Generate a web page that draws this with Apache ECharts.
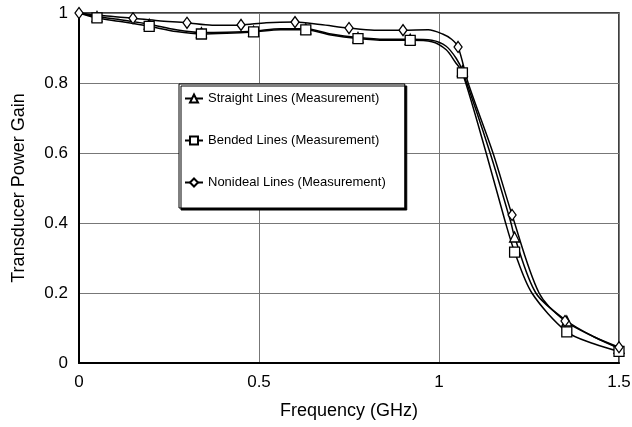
<!DOCTYPE html>
<html>
<head>
<meta charset="utf-8">
<script src="https://cdn.jsdelivr.net/npm/echarts@6/dist/echarts.min.js"></script>
<style>
  html, body { margin: 0; padding: 0; background: #fff; }
  #chart { width: 632px; height: 427px; }
</style>
</head>
<body>
<div id="chart"></div>
<script>
// 读图得到的数据：频率 (GHz) 与增益
var straightF = [0, 0.05, 0.12, 0.195, 0.27, 0.34, 0.41, 0.485, 0.56, 0.63, 0.7, 0.775, 0.85, 0.92, 0.98, 1.02, 1.048, 1.065, 1.142, 1.2, 1.21, 1.269, 1.355, 1.43, 1.5];
var straightG = [1.0, 0.99, 0.98, 0.968, 0.952, 0.944, 0.945, 0.948, 0.955, 0.955, 0.94, 0.93, 0.925, 0.925, 0.922, 0.905, 0.87, 0.835, 0.6, 0.4, 0.36, 0.2, 0.12, 0.075, 0.042];
var straightMarks = [0.05, 0.195, 0.34, 0.485, 0.63, 0.775, 0.92, 1.065, 1.21, 1.355, 1.5];

var bendedF = [0, 0.05, 0.12, 0.195, 0.27, 0.34, 0.41, 0.485, 0.56, 0.63, 0.7, 0.775, 0.85, 0.92, 0.98, 1.02, 1.045, 1.065, 1.131, 1.185, 1.21, 1.258, 1.355, 1.43, 1.5];
var bendedG = [1.0, 0.986, 0.975, 0.962, 0.947, 0.94, 0.942, 0.946, 0.952, 0.952, 0.937, 0.927, 0.922, 0.922, 0.918, 0.895, 0.86, 0.829, 0.6, 0.4, 0.317, 0.2, 0.089, 0.055, 0.033];
var bendedMarks = [0.05, 0.195, 0.34, 0.485, 0.63, 0.775, 0.92, 1.065, 1.21, 1.355, 1.5];

var nonidealF = [0, 0.07, 0.15, 0.22, 0.3, 0.37, 0.45, 0.52, 0.6, 0.67, 0.75, 0.82, 0.9, 0.97, 1.01, 1.035, 1.053, 1.081, 1.15, 1.203, 1.278, 1.35, 1.43, 1.5];
var nonidealG = [1.0, 0.992, 0.985, 0.978, 0.972, 0.965, 0.966, 0.972, 0.974, 0.967, 0.957, 0.951, 0.951, 0.952, 0.94, 0.925, 0.903, 0.8, 0.6, 0.423, 0.2, 0.12, 0.075, 0.045];
var nonidealMarks = [0, 0.15, 0.3, 0.45, 0.6, 0.75, 0.9, 1.053, 1.203, 1.35, 1.5];

var xTicks = [0, 0.5, 1, 1.5];
var yTicks = [0, 0.2, 0.4, 0.6, 0.8, 1];

// 把曲线点和测量点合在一起，只有测量点显示符号
function buildData(fs, gs, marks) {
    return fs.map(function (f, i) {
        var item = { value: [f, gs[i]] };
        if (marks.indexOf(f) < 0) {
            item.symbol = 'none';
        }
        return item;
    });
}

function makeSeries(name, symbol, size, data) {
    return {
        name: name,
        type: 'line',
        smooth: 0.3,
        symbol: symbol,
        symbolSize: size,
        showAllSymbol: true,
        lineStyle: { color: '#000', width: 1.5 },
        itemStyle: { color: '#fff', borderColor: '#000', borderWidth: 1.3 },
        emphasis: { disabled: true },
        data: data
    };
}

var chartDom = document.getElementById('chart');
var myChart = echarts.init(chartDom);

var option = {
    animation: false,
    backgroundColor: '#fff',
    textStyle: { fontFamily: 'Liberation Sans, Arial, sans-serif' },
    grid: {
        left: 79, right: 13, top: 13, bottom: 64,
        outerBoundsMode: 'none',
        containLabel: false,
        show: true,
        borderColor: '#000',
        borderWidth: 1.5
    },
    legend: {
        orient: 'vertical',
        left: 179,
        top: 84,
        padding: [8, 19, 19, 5],
        itemGap: 29,
        itemWidth: 18,
        itemHeight: 10,
        backgroundColor: '#fff',
        borderColor: '#000',
        borderWidth: 1,
        shadowColor: '#000',
        shadowBlur: 0,
        shadowOffsetX: 2,
        shadowOffsetY: 2,
        textStyle: { color: '#000', fontSize: 13, fontFamily: 'Liberation Sans, Arial, sans-serif' },
        data: ['Straight Lines (Measurement)', 'Bended Lines (Measurement)', 'Nonideal Lines (Measurement)']
    },
    xAxis: {
        type: 'value',
        min: xTicks[0],
        max: xTicks[xTicks.length - 1],
        interval: 0.5,
        name: 'Frequency (GHz)',
        nameLocation: 'middle',
        nameGap: 39,
        nameTextStyle: { fontSize: 18, color: '#000' },
        axisLine: { lineStyle: { color: '#000', width: 2 } },
        axisTick: { show: false },
        axisLabel: { color: '#000', fontSize: 17, margin: 11 },
        splitLine: { show: true, lineStyle: { color: '#777', width: 1 } }
    },
    yAxis: {
        type: 'value',
        min: yTicks[0],
        max: yTicks[yTicks.length - 1],
        interval: 0.2,
        name: 'Transducer Power Gain',
        nameLocation: 'middle',
        nameGap: 51,
        nameTextStyle: { fontSize: 18, color: '#000' },
        axisLine: { show: true, lineStyle: { color: '#000', width: 2 } },
        axisTick: { show: false },
        axisLabel: { color: '#000', fontSize: 17, margin: 11 },
        splitLine: { show: true, lineStyle: { color: '#777', width: 1 } }
    },
    series: [
        makeSeries('Straight Lines (Measurement)', 'triangle', 10, buildData(straightF, straightG, straightMarks)),
        makeSeries('Bended Lines (Measurement)', 'rect', 10, buildData(bendedF, bendedG, bendedMarks)),
        makeSeries('Nonideal Lines (Measurement)', 'diamond', [8, 11], buildData(nonidealF, nonidealG, nonidealMarks))
    ]
};

myChart.setOption(option);
</script>
</body>
</html>
